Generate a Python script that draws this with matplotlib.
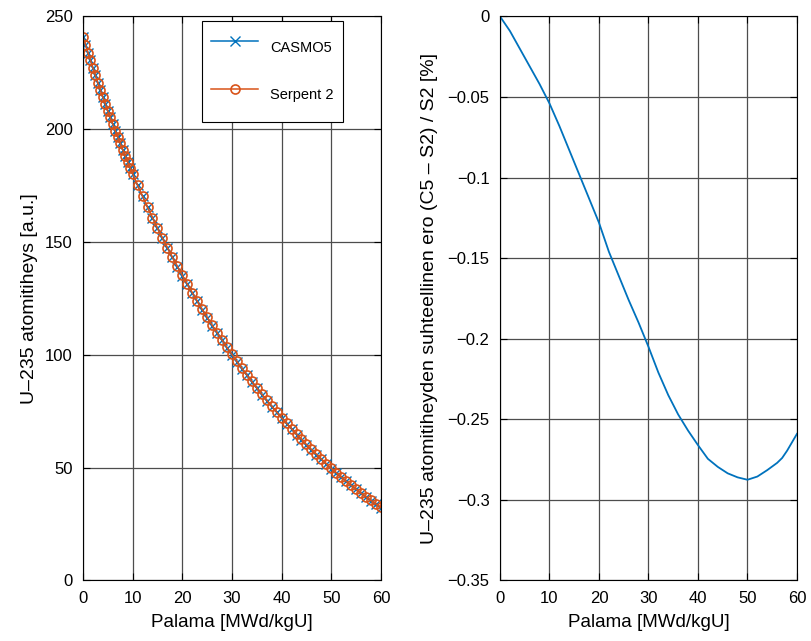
"""U-235 atom density: CASMO5 vs Serpent 2, and their relative difference."""
import matplotlib
matplotlib.use("Agg")
import matplotlib.pyplot as plt

# burnup points [MWd/kgU]: half steps up to 10, then whole steps
burnup = [0, 0.5, 1, 1.5, 2, 2.5, 3, 3.5, 4, 4.5, 5, 5.5, 6, 6.5, 7, 7.5,
          8, 8.5, 9, 9.5, 10, 11, 12, 13, 14, 15, 16, 17, 18, 19, 20,
          21, 22, 23, 24, 25, 26, 27, 28, 29, 30, 31, 32, 33, 34, 35,
          36, 37, 38, 39, 40, 41, 42, 43, 44, 45, 46, 47, 48, 49, 50,
          51, 52, 53, 54, 55, 56, 57, 58, 59, 60]

# U-235 atom density [a.u.]
casmo5 = [
    241.0, 237.5, 234.0, 230.6, 227.2, 223.9, 220.6, 217.4, 214.3, 211.2,
    208.2, 205.2, 202.2, 199.3, 196.5, 193.7, 190.9, 188.2, 185.5, 182.8,
    180.2, 175.1, 170.2, 165.4, 160.7, 156.1, 151.7, 147.4, 143.2, 139.1,
    135.1, 131.2, 127.4, 123.7, 120.0, 116.5, 113.0, 109.7, 106.4, 103.1,
    100.0, 96.9, 93.9, 90.9, 88.0, 85.2, 82.4, 79.7, 77.1, 74.5,
    71.9, 69.5, 67.1, 64.7, 62.4, 60.1, 57.9, 55.8, 53.7, 51.6,
    49.6, 47.7, 45.8, 43.9, 42.1, 40.4, 38.6, 37.0, 35.4, 33.8,
    32.3,
]
serpent2 = [
    241.0, 237.5, 234.0, 230.6, 227.2, 223.9, 220.6, 217.4, 214.3, 211.2,
    208.2, 205.2, 202.3, 199.4, 196.6, 193.8, 191.0, 188.3, 185.6, 182.9,
    180.3, 175.2, 170.3, 165.5, 160.8, 156.2, 151.8, 147.5, 143.3, 139.3,
    135.3, 131.4, 127.6, 123.9, 120.2, 116.7, 113.2, 109.9, 106.6, 103.3,
    100.2, 97.1, 94.1, 91.1, 88.2, 85.4, 82.6, 79.9, 77.3, 74.7,
    72.1, 69.7, 67.3, 64.9, 62.6, 60.3, 58.1, 56.0, 53.9, 51.8,
    49.7, 47.8, 45.9, 44.0, 42.2, 40.5, 38.7, 37.1, 35.5, 33.9,
    32.4,
]

# relative difference (C5 - S2) / S2 [%]
diff_burnup = [0, 2, 4, 6, 8, 10, 12, 14, 16, 18, 20, 22, 24, 26, 28, 30,
               32, 34, 36, 38, 40, 42, 44, 46, 48, 50, 52, 54, 56, 57, 58, 60]
rel_diff = [0.0, -0.009, -0.020, -0.031, -0.042, -0.054, -0.068, -0.083,
            -0.098, -0.113, -0.128, -0.146, -0.161, -0.176, -0.190, -0.205,
            -0.221, -0.235, -0.247, -0.257, -0.266, -0.2745, -0.2795, -0.2835,
            -0.2860, -0.2875, -0.2855, -0.2815, -0.2770, -0.2740, -0.2695,
            -0.2590]

left_yticks = [0, 50, 100, 150, 200, 250]
right_yticks = [-0.35, -0.3, -0.25, -0.2, -0.15, -0.1, -0.05, 0]
right_ylabels = ["\u22120.35", "\u22120.3", "\u22120.25", "\u22120.2",
                 "\u22120.15", "\u22120.1", "\u22120.05", "0"]
xticks = [0, 10, 20, 30, 40, 50, 60]

BLUE = "#0072BD"
ORANGE = "#D95319"

plt.rcParams["font.family"] = ["Liberation Sans", "DejaVu Sans"]


def style_axes(ax):
    """MATLAB-like box, inward ticks on all sides and dark grid."""
    ax.grid(True, color="0.3", linewidth=0.9)
    ax.set_axisbelow(True)
    ax.tick_params(direction="in", top=True, right=True, length=5,
                   labelsize=12, pad=7.5, width=0.8)
    for spine in ax.spines.values():
        spine.set_linewidth(0.8)


fig = plt.figure(figsize=(8.11, 6.41), dpi=100)

ax1 = fig.add_axes([0.1023, 0.0944, 0.3674, 0.880])
ax1.plot(burnup, casmo5, color=BLUE, marker="x", markersize=6.5,
         linewidth=1.1, markeredgewidth=1.0, label="CASMO5")
ax1.plot(burnup, serpent2, color=ORANGE, marker="o", markersize=6.5,
         markerfacecolor="none", linewidth=1.1, markeredgewidth=1.2,
         label="Serpent 2")
ax1.set_xlim(0, 60)
ax1.set_ylim(0, 250)
ax1.set_xticks(xticks)
ax1.set_yticks(left_yticks)
ax1.set_xlabel("Palama [MWd/kgU]", fontsize=13.5, labelpad=6)
ax1.set_ylabel("U\u2013235 atomitiheys [a.u.]", fontsize=14, labelpad=5)
style_axes(ax1)
leg = ax1.legend(loc="upper right", bbox_to_anchor=(0.872, 0.992),
                 borderaxespad=0, fontsize=10.5, handlelength=3.2,
                 handleheight=3.2, handletextpad=0.8, labelspacing=0.95,
                 borderpad=0.65, fancybox=False, framealpha=1,
                 edgecolor="black")
leg.get_frame().set_linewidth(0.8)

ax2 = fig.add_axes([0.6165, 0.0944, 0.3662, 0.880])
ax2.plot(diff_burnup, rel_diff, color=BLUE, linewidth=1.3)
ax2.set_xlim(0, 60)
ax2.set_ylim(-0.35, 0)
ax2.set_xticks(xticks)
ax2.set_yticks(right_yticks)
ax2.set_yticklabels(right_ylabels)
ax2.set_xlabel("Palama [MWd/kgU]", fontsize=13.5, labelpad=6)
ax2.set_ylabel("U\u2013235 atomitiheyden suhteellinen ero (C5 \u2013 S2) / S2 [%]",
               fontsize=14, labelpad=7)
style_axes(ax2)

fig.savefig("out.png", dpi=100)
plt.close(fig)
